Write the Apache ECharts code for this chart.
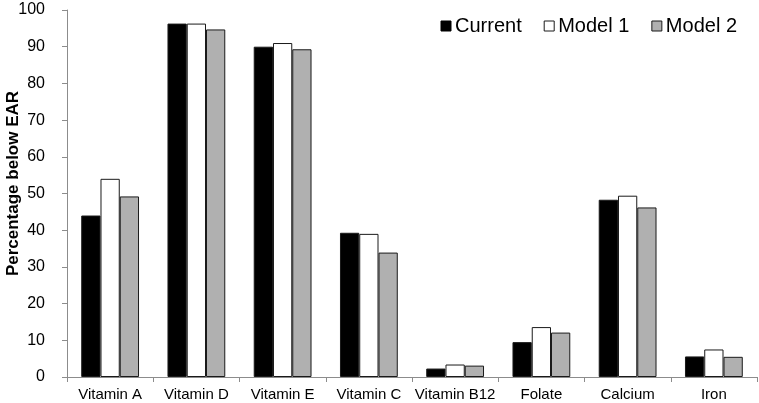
<!DOCTYPE html>
<html>
<head>
<meta charset="utf-8">
<script src="https://cdn.jsdelivr.net/npm/echarts@6/dist/echarts.min.js"></script>
<style>
html,body{margin:0;padding:0;background:#fff;}
#chart{width:759px;height:403px;}
</style>
</head>
<body>
<div id="chart"></div>
<script>
var categories = ['Vitamin A','Vitamin D','Vitamin E','Vitamin C','Vitamin B12','Folate','Calcium','Iron'];
var currentVals = [44.0, 96.3, 90.0, 39.3, 2.3, 9.5, 48.3, 5.6];
var model1Vals  = [54.0, 96.3, 91.0, 39.0, 3.4, 13.6, 49.4, 7.5];
var model2Vals  = [49.2, 94.7, 89.3, 33.9, 3.1, 12.1, 46.2, 5.5];
var yTicks = {min: 0, max: 100, interval: 10};

var FONT = '"Liberation Sans", Arial, sans-serif';
var chart = echarts.init(document.getElementById('chart'), null, {renderer: 'canvas'});
function barSeries(name, data, color) {
  return {
    name: name,
    type: 'bar',
    data: data,
    barGap: '0%',
    barCategoryGap: '33%',
    itemStyle: {color: color, borderColor: '#1a1a1a', borderWidth: 1},
    emphasis: {disabled: true}
  };
}
chart.setOption({
  animation: false,
  backgroundColor: '#fff',
  grid: {left: 67, right: 2, top: 10, bottom: 26, containLabel: false, outerBoundsMode: 'none'},
  legend: {
    right: 17, top: 11,
    itemWidth: 10, itemHeight: 10, itemGap: 22,
    icon: 'rect',
    textStyle: {fontFamily: FONT, fontSize: 20, color: '#000', padding: [0,0,0,-1]},
    data: [
      {name: 'Current', itemStyle: {color: '#000', borderColor: '#000', borderWidth: 1}},
      {name: 'Model 1', itemStyle: {color: '#fff', borderColor: '#1a1a1a', borderWidth: 1}},
      {name: 'Model 2', itemStyle: {color: '#b0b0b0', borderColor: '#1a1a1a', borderWidth: 1}}
    ]
  },
  xAxis: {
    type: 'category',
    data: categories,
    boundaryGap: true,
    axisLine: {lineStyle: {color: '#8c8c8c', width: 1}},
    axisTick: {show: true, length: 5, alignWithLabel: false, lineStyle: {color: '#8c8c8c'}},
    axisLabel: {fontFamily: FONT, fontSize: 15, color: '#000', margin: 10, interval: 0}
  },
  yAxis: {
    type: 'value',
    min: yTicks.min, max: yTicks.max, interval: yTicks.interval,
    name: 'Percentage below EAR',
    nameLocation: 'middle',
    nameGap: 45,
    nameMoveOverlap: false,
    nameTextStyle: {fontFamily: FONT, fontSize: 17, fontWeight: 'bold', color: '#000', padding: [0,0,0,20]},
    axisLine: {show: true, lineStyle: {color: '#8c8c8c', width: 1}},
    axisTick: {show: true, length: 5, lineStyle: {color: '#8c8c8c'}},
    splitLine: {show: false},
    axisLabel: {fontFamily: FONT, fontSize: 16, color: '#000', margin: 22}
  },
  series: [
    barSeries('Current', currentVals, '#000'),
    barSeries('Model 1', model1Vals, '#fff'),
    barSeries('Model 2', model2Vals, '#b0b0b0')
  ]
});
</script>
</body>
</html>
